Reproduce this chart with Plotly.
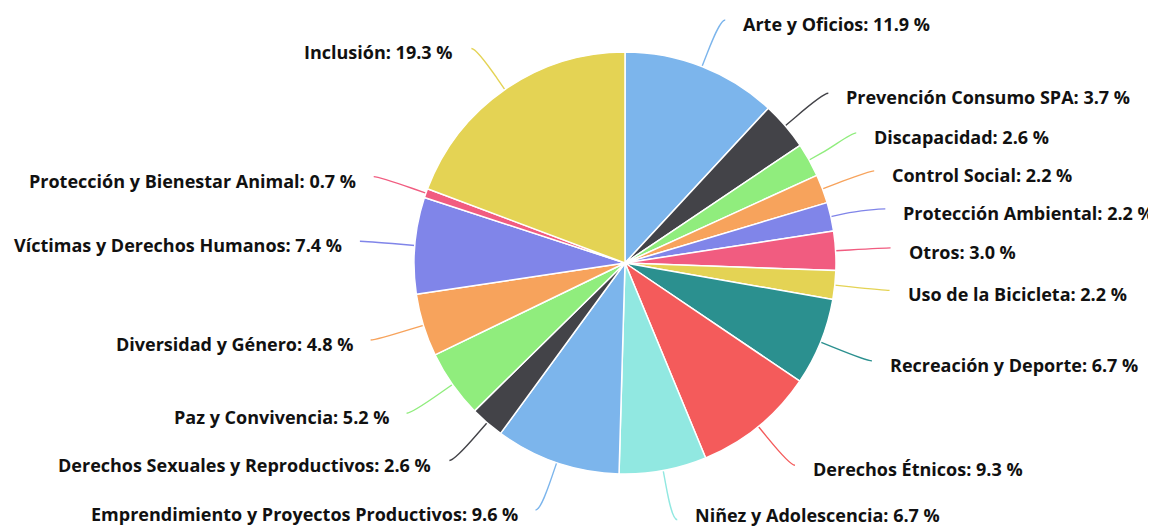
import math
import plotly.graph_objects as go

# ---------------- data ----------------
categories = [
    "Arte y Oficios", "Prevención Consumo SPA", "Discapacidad", "Control Social",
    "Protección Ambiental", "Otros", "Uso de la Bicicleta", "Recreación y Deporte",
    "Derechos Étnicos", "Niñez y Adolescencia", "Emprendimiento y Proyectos Productivos",
    "Derechos Sexuales y Reproductivos", "Paz y Convivencia", "Diversidad y Género",
    "Víctimas y Derechos Humanos", "Protección y Bienestar Animal", "Inclusión",
]
percentages = [11.9, 3.7, 2.6, 2.2, 2.2, 3.0, 2.2, 6.7, 9.3, 6.7, 9.6, 2.6, 5.2, 4.8, 7.4, 0.7, 19.3]
palette = ["#7cb5ec", "#434348", "#90ed7d", "#f7a35c", "#8085e9",
           "#f15c80", "#e4d354", "#2b908f", "#f45b5b", "#91e8e1"]

# ---------------- layout constants ----------------
PAGE_W, PAGE_H = 1156, 529
OFF = 8                              # page body margin
W, H = PAGE_W - OFF, PAGE_H - OFF    # figure size
CX, CY, R = 625 - OFF, 263 - OFF, 211
DIST = 50          # label distance outside the pie
MIN_GAP = 38       # minimum vertical spacing of labels on one side
TEXT_GAP = 21      # horizontal gap between connector end and text
BREAK = 14         # second break of the connector outside the pie
FONT = dict(family="Open Sans, Liberation Sans, sans-serif", size=18, color="#111111", weight="bold")

colors = [palette[i % len(palette)] for i in range(len(categories))]

fig = go.Figure(go.Pie(
    labels=categories, values=percentages, sort=False, direction="clockwise", rotation=0,
    marker=dict(colors=colors, line=dict(color="white", width=1.5)),
    textinfo="none", hovertemplate="%{label}: %{value} %<extra></extra>",
    domain=dict(x=[(CX - R) / W, (CX + R) / W], y=[1 - (CY + R) / H, 1 - (CY - R) / H]),
    showlegend=False,
))

# ---------------- Highcharts-like label placement ----------------
total = sum(percentages)
RL = R + DIST
items = []
cum = 0.0
for i, v in enumerate(percentages):
    mid = (cum + v / 2) / total * 2 * math.pi
    cum += v
    side = 1 if math.sin(mid) >= 0 else -1
    items.append(dict(i=i, mid=mid, side=side, y=CY - RL * math.cos(mid)))

for side in (1, -1):
    grp = sorted([it for it in items if it["side"] == side], key=lambda t: t["y"])
    for _ in range(200):
        moved = False
        for a, b in zip(grp, grp[1:]):
            gap = b["y"] - a["y"]
            if gap < MIN_GAP - 1e-6:
                d = (MIN_GAP - gap) / 2
                a["y"] -= d
                b["y"] += d
                moved = True
        if not moved:
            break


def P(x, y):
    return f"{x / W:.5f},{1 - y / H:.5f}"


shapes = []
annotations = []
for it in items:
    i, mid, side, ly = it["i"], it["mid"], it["side"], it["y"]
    dy = max(-RL, min(RL, ly - CY))
    lx = CX + side * math.sqrt(RL ** 2 - dy ** 2)
    sx, sy = CX + R * math.sin(mid), CY - R * math.cos(mid)
    bx, by = CX + (R + BREAK) * math.sin(mid), CY - (R + BREAK) * math.cos(mid)
    path = (f"M {P(lx + side * 5, ly)} C {P(lx, ly)} {P(2 * bx - sx, 2 * by - sy)} {P(bx, by)} "
            f"L {P(sx, sy)}")
    shapes.append(dict(type="path", path=path, xref="paper", yref="paper",
                       line=dict(color=colors[i], width=1.4), layer="below"))
    ty = min(ly + 4, H - 14)
    annotations.append(dict(
        x=(lx + side * TEXT_GAP) / W, y=1 - ty / H, xref="paper", yref="paper",
        text=f"{categories[i]}: {percentages[i]:.1f} %", showarrow=False,
        xanchor="left" if side > 0 else "right", yanchor="middle", font=FONT,
    ))

fig.update_layout(
    width=W, height=H, margin=dict(l=0, r=0, t=0, b=0),
    paper_bgcolor="white", plot_bgcolor="white",
    shapes=shapes, annotations=annotations,
)

fig.write_html("out.html")
